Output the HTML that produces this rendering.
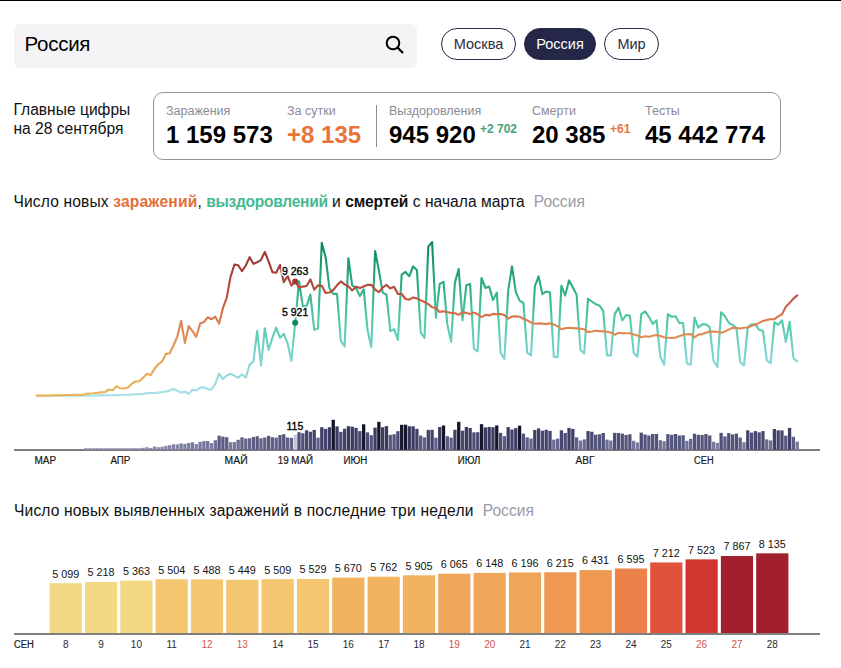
<!DOCTYPE html>
<html lang="ru"><head><meta charset="utf-8"><title>Коронавирус: статистика</title>
<style>
html,body{margin:0;padding:0;background:#fff;}
body{width:841px;height:668px;position:relative;overflow:hidden;font-family:"Liberation Sans",sans-serif;color:#000;}
.topline{position:absolute;left:0;top:0;width:841px;height:1px;background:#000;}
.search{position:absolute;left:14px;top:24px;width:403px;height:44px;background:#f4f4f6;border-radius:6px;}
.search .q{position:absolute;left:10.5px;top:7.6px;font-size:20.5px;line-height:24px;letter-spacing:-0.25px;color:#000;}
.search svg{position:absolute;left:368.6px;top:9.4px;}
.pill{position:absolute;top:28px;height:30px;border:1px solid #2a2b45;border-radius:16px;font-size:14.5px;line-height:30px;text-align:center;color:#2b2c40;box-sizing:content-box;}
.pill.on{background:#252748;color:#fff;}
.main{position:absolute;left:13.5px;top:99.75px;font-size:15.6px;line-height:19.3px;color:#111;}
.stats{position:absolute;left:153px;top:92px;width:626px;height:66px;border:1px solid #93939c;border-radius:10px;}
.lab{position:absolute;top:104px;font-size:12.5px;line-height:14px;color:#8a8b96;white-space:nowrap;}
.num{position:absolute;top:120.8px;font-size:24px;line-height:28px;font-weight:bold;color:#000;white-space:nowrap;}
.sm{position:absolute;top:122.3px;font-size:12px;line-height:14px;font-weight:bold;white-space:nowrap;}
.div{position:absolute;left:376px;top:105px;width:1px;height:42px;background:#8d8d99;}
.h{position:absolute;left:14px;font-size:15.6px;line-height:20px;white-space:nowrap;color:#111;}
.h b{font-weight:bold;}
.h .g{color:#9a9ba6;margin-left:9px;}
svg text{font-family:"Liberation Sans",sans-serif;}
.ax{font-size:10px;fill:#1a1a1a;stroke:#1a1a1a;stroke-width:0.2px;}
.bv{font-size:10.8px;fill:#111;text-anchor:middle;}
.bd{font-size:10px;fill:#2a2a33;text-anchor:middle;}
.pt{font-size:10.5px;fill:#000;stroke:#000;stroke-width:0.35px;}
.hl{font-size:10.5px;fill:#fff;stroke:#fff;stroke-width:3px;stroke-linejoin:round;}
</style></head><body>
<div class="topline"></div>
<div class="search"><span class="q">Россия</span>
<svg width="24" height="24" viewBox="0 0 24 24"><circle cx="10" cy="10" r="6.3" fill="none" stroke="#000" stroke-width="2"/><path d="M14.6 14.6 L20 20" stroke="#000" stroke-width="2.2" stroke-linecap="butt"/></svg></div>
<div class="pill" style="left:441px;width:73px;">Москва</div>
<div class="pill on" style="left:524px;width:70px;">Россия</div>
<div class="pill" style="left:604px;width:53px;">Мир</div>

<div class="main">Главные цифры<br>на 28 сентября</div>
<div class="stats"></div>
<div class="lab" style="left:166px;">Заражения</div>
<div class="num" style="left:166px;">1 159 573</div>
<div class="lab" style="left:287px;">За сутки</div>
<div class="num" style="left:287px;color:#e8743b;">+8 135</div>
<div class="div"></div>
<div class="lab" style="left:389px;">Выздоровления</div>
<div class="num" style="left:389px;">945 920</div>
<div class="sm" style="left:480px;color:#3fa37c;">+2 702</div>
<div class="lab" style="left:532px;">Смерти</div>
<div class="num" style="left:532px;">20 385</div>
<div class="sm" style="left:610px;color:#e8743b;">+61</div>
<div class="lab" style="left:645px;">Тесты</div>
<div class="num" style="left:645px;">45 442 774</div>

<div class="h" style="top:191.5px;left:13.5px;"><span id="t1a" style="letter-spacing:0.13px">Число новых </span><b id="t1b" style="color:#e0703a;letter-spacing:0.2px">заражений</b><span id="t1c">, </span><b id="t1d" style="color:#45b894;letter-spacing:-0.3px">выздоровлений</b><span id="t1e"> и </span><b id="t1f" style="letter-spacing:-0.14px">смертей</b><span id="t1g" style="letter-spacing:0.05px"> с начала марта</span><span class="g" id="t1h">Россия</span></div>
<div class="h" style="top:501px;left:14px;"><span id="t2a" style="letter-spacing:0.14px">Число новых выявленных заражений</span><span id="t2b" style="letter-spacing:0.22px"> в последние три недели</span><span class="g" id="t2c">Россия</span></div>

<svg width="841" height="668" viewBox="0 0 841 668" style="position:absolute;left:0;top:0;">
<defs>
<linearGradient id="gi" gradientUnits="userSpaceOnUse" x1="0" y1="396" x2="0" y2="250">
<stop offset="0" stop-color="#ecb558"/><stop offset="0.25" stop-color="#e8a055"/><stop offset="0.42" stop-color="#e08c54"/><stop offset="0.5" stop-color="#dc8150"/><stop offset="0.58" stop-color="#d56a43"/><stop offset="0.68" stop-color="#c4503c"/><stop offset="0.8" stop-color="#ab413a"/><stop offset="1" stop-color="#9a3838"/>
</linearGradient>
<linearGradient id="gr" gradientUnits="userSpaceOnUse" x1="0" y1="396" x2="0" y2="242">
<stop offset="0" stop-color="#a9dfe9"/><stop offset="0.25" stop-color="#7dd5d0"/><stop offset="0.5" stop-color="#4fc8a6"/><stop offset="0.75" stop-color="#27a97c"/><stop offset="1" stop-color="#0c8a5e"/>
</linearGradient>
</defs>
<path d="M36.6,395.7 L40.4,395.7 L44.2,395.7 L48.0,395.7 L51.8,395.7 L55.6,395.7 L59.4,395.7 L63.2,395.7 L67.0,395.7 L70.8,395.7 L74.6,395.7 L78.4,395.7 L82.2,395.6 L86.0,395.6 L89.8,395.6 L93.6,395.5 L97.4,395.5 L101.2,395.4 L105.0,395.3 L108.9,395.3 L112.7,395.2 L116.5,395.1 L120.3,395.0 L124.1,394.8 L127.9,394.7 L131.7,394.5 L135.5,394.3 L139.3,394.1 L143.1,393.9 L146.9,393.2 L150.7,392.8 L154.5,393.0 L158.3,392.6 L162.1,392.0 L165.9,391.5 L169.7,390.4 L173.5,389.0 L177.3,390.8 L181.1,392.6 L184.9,391.8 L188.7,393.7 L192.5,389.7 L196.3,390.5 L200.1,387.8 L203.9,387.2 L207.7,389.1 L211.5,389.7 L215.3,383.7 L219.1,373.7 L222.9,379.1 L226.7,375.6 L230.5,373.7 L234.4,375.6 L238.2,377.8 L242.0,374.3 L245.8,377.8 L249.6,364.8 L253.4,361.6 L257.2,331.1 L261.0,365.7 L264.8,328.4 L268.6,350.0 L272.4,337.9 L276.2,327.6 L280.0,337.9 L283.8,333.8 L287.6,343.3 L291.4,360.8 L295.2,323.0 L299.0,281.2 L302.8,306.1 L306.6,306.1 L310.4,294.7 L314.2,329.8 L318.0,328.4 L321.8,242.9 L325.6,257.0 L329.4,288.0 L333.2,293.9 L337.0,293.9 L340.8,340.6 L344.6,346.5 L348.4,258.3 L352.2,285.3 L356.0,288.0 L359.9,296.1 L363.7,289.3 L367.5,329.8 L371.3,347.3 L375.1,251.0 L378.9,270.5 L382.7,292.6 L386.5,294.7 L390.3,331.1 L394.1,329.2 L397.9,340.0 L401.7,274.5 L405.5,271.8 L409.3,276.4 L413.1,266.4 L416.9,269.9 L420.7,332.5 L424.5,337.9 L428.3,246.7 L432.1,242.1 L435.9,317.6 L439.7,283.9 L443.5,281.8 L447.3,324.4 L451.1,341.9 L454.9,282.6 L458.7,269.1 L462.5,320.3 L466.3,285.3 L470.1,283.9 L473.9,348.7 L477.7,351.4 L481.5,278.0 L485.4,288.0 L489.2,286.6 L493.0,300.1 L496.8,292.6 L500.6,352.7 L504.4,358.9 L508.2,290.7 L512.0,266.4 L515.8,292.0 L519.6,300.7 L523.4,302.8 L527.2,352.7 L531.0,355.4 L534.8,286.6 L538.6,276.4 L542.4,294.2 L546.2,291.5 L550.0,292.6 L553.8,356.8 L557.6,357.3 L561.4,285.8 L565.2,295.5 L569.0,280.4 L572.8,287.2 L576.6,294.7 L580.4,350.0 L584.2,353.5 L588.0,298.8 L591.8,301.5 L595.6,304.2 L599.4,305.5 L603.2,310.9 L607.0,355.4 L610.8,355.4 L614.7,314.1 L618.5,307.7 L622.3,320.3 L626.1,315.0 L629.9,315.8 L633.7,352.7 L637.5,356.8 L641.3,314.1 L645.1,311.4 L648.9,316.8 L652.7,323.9 L656.5,320.3 L660.3,356.8 L664.1,364.8 L667.9,314.1 L671.7,316.8 L675.5,316.3 L679.3,323.0 L683.1,323.0 L686.9,363.5 L690.7,364.8 L694.5,317.6 L698.3,327.6 L702.1,324.4 L705.9,324.4 L709.7,327.1 L713.5,360.8 L717.3,367.0 L721.1,312.3 L724.9,316.3 L728.7,322.5 L732.5,324.9 L736.3,327.6 L740.2,362.1 L744.0,365.4 L747.8,327.1 L751.6,324.4 L755.4,324.4 L759.2,329.8 L763.0,331.1 L766.8,360.3 L770.6,363.5 L774.4,322.2 L778.2,324.9 L782.0,320.3 L785.8,341.9 L789.6,321.7 L793.4,358.1 L797.2,361.6" fill="none" stroke="url(#gr)" stroke-width="2.1" stroke-linejoin="round" stroke-linecap="round"/>
<path d="M36.6,395.6 L40.4,395.6 L44.2,395.5 L48.0,395.7 L51.8,395.3 L55.6,395.4 L59.4,395.3 L63.2,395.1 L67.0,395.0 L70.8,395.0 L74.6,394.9 L78.4,394.8 L82.2,395.0 L86.0,393.7 L89.8,393.5 L93.6,393.3 L97.4,392.9 L101.2,392.4 L105.0,392.0 L108.9,389.5 L112.7,390.3 L116.5,386.2 L120.3,388.3 L124.1,388.5 L127.9,387.6 L131.7,383.9 L135.5,381.5 L139.3,381.2 L143.1,377.7 L146.9,373.7 L150.7,375.1 L154.5,368.7 L158.3,364.2 L162.1,361.5 L165.9,353.9 L169.7,353.2 L173.5,345.5 L177.3,336.7 L181.1,321.0 L184.9,343.1 L188.7,326.1 L192.5,331.1 L196.3,336.8 L200.1,323.6 L203.9,322.1 L207.7,317.3 L211.5,319.3 L215.3,316.7 L219.1,323.7 L222.9,308.2 L226.7,297.9 L230.5,277.0 L234.4,264.6 L238.2,265.2 L242.0,271.1 L245.8,265.5 L249.6,257.2 L253.4,263.8 L257.2,262.3 L261.0,259.9 L264.8,252.0 L268.6,261.3 L272.4,272.1 L276.2,272.7 L280.0,265.0 L283.8,282.3 L287.6,276.0 L291.4,285.6 L295.2,281.5 L299.0,287.6 L302.8,286.6 L306.6,286.0 L310.4,279.4 L314.2,289.7 L318.0,285.4 L321.8,285.8 L325.6,292.9 L329.4,292.5 L333.2,290.0 L337.0,285.3 L340.8,281.4 L344.6,284.3 L348.4,286.4 L352.2,290.5 L356.0,286.8 L359.9,288.1 L363.7,286.5 L367.5,284.9 L371.3,284.9 L375.1,289.7 L378.9,292.1 L382.7,287.5 L386.5,284.9 L390.3,288.4 L394.1,286.8 L397.9,294.0 L401.7,294.0 L405.5,299.0 L409.3,299.6 L413.1,297.4 L416.9,298.4 L420.7,300.4 L424.5,302.0 L428.3,304.1 L432.1,307.2 L435.9,308.0 L439.7,311.9 L443.5,311.2 L447.3,312.0 L451.1,312.9 L454.9,313.2 L458.7,314.9 L462.5,312.3 L466.3,312.9 L470.1,313.9 L473.9,312.6 L477.7,314.2 L481.5,317.2 L485.4,314.8 L489.2,315.4 L493.0,313.9 L496.8,314.2 L500.6,314.1 L504.4,315.1 L508.2,318.7 L512.0,316.5 L515.8,316.4 L519.6,316.7 L523.4,318.8 L527.2,320.4 L531.0,322.5 L534.8,323.7 L538.6,323.4 L542.4,323.6 L546.2,324.1 L550.0,323.3 L553.8,324.6 L557.6,326.2 L561.4,329.2 L565.2,328.2 L569.0,327.8 L572.8,328.1 L576.6,328.4 L580.4,328.8 L584.2,329.2 L588.0,332.1 L591.8,331.5 L595.6,330.8 L599.4,331.1 L603.2,331.4 L607.0,331.7 L610.8,332.6 L614.7,334.7 L618.5,332.8 L622.3,333.3 L626.1,333.2 L629.9,333.3 L633.7,334.4 L637.5,335.4 L641.3,337.2 L645.1,336.2 L648.9,336.7 L652.7,335.7 L656.5,335.0 L660.3,335.9 L664.1,337.2 L667.9,337.8 L671.7,338.0 L675.5,337.6 L679.3,336.2 L683.1,334.8 L686.9,334.3 L690.7,334.1 L694.5,337.4 L698.3,334.6 L702.1,334.1 L705.9,332.7 L709.7,331.5 L713.5,331.6 L717.3,331.8 L721.1,332.8 L724.9,331.4 L728.7,329.6 L732.5,327.8 L736.3,328.0 L740.2,328.5 L744.0,327.8 L747.8,327.5 L751.6,325.8 L755.4,324.7 L759.2,322.9 L763.0,320.9 L766.8,319.9 L770.6,319.3 L774.4,319.1 L778.2,316.4 L782.0,314.4 L785.8,306.8 L789.6,302.9 L793.4,298.7 L797.2,295.4" fill="none" stroke="url(#gi)" stroke-width="2.1" stroke-linejoin="round" stroke-linecap="round"/>
<circle cx="295.2" cy="281.5" r="3" fill="#a8323a"/>
<circle cx="295.2" cy="322.8" r="3" fill="#0c8a5e"/>
<text x="282" y="275" class="hl">9 263</text>
<text x="282" y="316" class="hl">5 921</text>
<text x="282" y="275" class="pt">9 263</text>
<text x="282" y="316" class="pt">5 921</text>
<text x="286.5" y="429.6" class="pt">115</text>
<rect x="14" y="449" width="806" height="2" fill="#7c7c80"/>
<rect x="84.38" y="448.20" width="3.3" height="1.60" fill="#8c8eae"/>
<rect x="88.19" y="448.20" width="3.3" height="1.60" fill="#8c8eae"/>
<rect x="91.99" y="448.20" width="3.3" height="1.60" fill="#8c8eae"/>
<rect x="95.79" y="448.20" width="3.3" height="1.60" fill="#8c8eae"/>
<rect x="99.60" y="448.20" width="3.3" height="1.60" fill="#8c8eae"/>
<rect x="103.40" y="448.20" width="3.3" height="1.60" fill="#8c8eae"/>
<rect x="107.20" y="448.20" width="3.3" height="1.60" fill="#8c8eae"/>
<rect x="111.01" y="448.20" width="3.3" height="1.60" fill="#8c8eae"/>
<rect x="114.81" y="448.20" width="3.3" height="1.60" fill="#8c8eae"/>
<rect x="118.61" y="448.20" width="3.3" height="1.60" fill="#8c8eae"/>
<rect x="122.41" y="448.20" width="3.3" height="1.60" fill="#8c8eae"/>
<rect x="126.22" y="448.20" width="3.3" height="1.60" fill="#8c8eae"/>
<rect x="130.02" y="448.20" width="3.3" height="1.60" fill="#8c8eae"/>
<rect x="133.82" y="448.09" width="3.3" height="1.71" fill="#8c8eae"/>
<rect x="137.63" y="448.20" width="3.3" height="1.60" fill="#8c8eae"/>
<rect x="141.43" y="447.84" width="3.3" height="1.96" fill="#8c8eae"/>
<rect x="145.23" y="447.20" width="3.3" height="2.60" fill="#8c8eae"/>
<rect x="149.04" y="447.96" width="3.3" height="1.84" fill="#8c8eae"/>
<rect x="152.84" y="446.43" width="3.3" height="3.37" fill="#8a8cac"/>
<rect x="156.64" y="447.20" width="3.3" height="2.60" fill="#8c8eae"/>
<rect x="160.44" y="446.68" width="3.3" height="3.12" fill="#8b8dad"/>
<rect x="164.25" y="445.92" width="3.3" height="3.88" fill="#888aab"/>
<rect x="168.05" y="445.15" width="3.3" height="4.65" fill="#8688a9"/>
<rect x="171.85" y="444.25" width="3.3" height="5.55" fill="#8385a7"/>
<rect x="175.66" y="444.38" width="3.3" height="5.42" fill="#8486a8"/>
<rect x="179.46" y="443.36" width="3.3" height="6.44" fill="#7e80a3"/>
<rect x="183.26" y="443.87" width="3.3" height="5.93" fill="#8183a5"/>
<rect x="187.07" y="442.97" width="3.3" height="6.83" fill="#7c7ea1"/>
<rect x="190.87" y="442.20" width="3.3" height="7.60" fill="#787a9e"/>
<rect x="194.67" y="444.12" width="3.3" height="5.68" fill="#8284a6"/>
<rect x="198.47" y="441.82" width="3.3" height="7.98" fill="#76789c"/>
<rect x="202.28" y="441.05" width="3.3" height="8.75" fill="#727499"/>
<rect x="206.08" y="441.05" width="3.3" height="8.75" fill="#727499"/>
<rect x="209.88" y="443.10" width="3.3" height="6.70" fill="#7d7fa2"/>
<rect x="213.69" y="440.28" width="3.3" height="9.52" fill="#6e7095"/>
<rect x="217.49" y="435.68" width="3.3" height="14.12" fill="#585980"/>
<rect x="221.29" y="436.57" width="3.3" height="13.23" fill="#5b5c83"/>
<rect x="225.10" y="437.21" width="3.3" height="12.59" fill="#5e5f86"/>
<rect x="228.90" y="442.20" width="3.3" height="7.60" fill="#787a9e"/>
<rect x="232.70" y="442.08" width="3.3" height="7.72" fill="#787a9d"/>
<rect x="236.50" y="439.77" width="3.3" height="10.03" fill="#6c6d93"/>
<rect x="240.31" y="437.34" width="3.3" height="12.46" fill="#5f6087"/>
<rect x="244.11" y="438.49" width="3.3" height="11.31" fill="#65668c"/>
<rect x="247.91" y="438.24" width="3.3" height="11.56" fill="#64658b"/>
<rect x="251.72" y="436.96" width="3.3" height="12.84" fill="#5d5e85"/>
<rect x="255.52" y="436.19" width="3.3" height="13.61" fill="#5a5b82"/>
<rect x="259.32" y="438.24" width="3.3" height="11.56" fill="#64658b"/>
<rect x="263.13" y="437.47" width="3.3" height="12.33" fill="#606187"/>
<rect x="266.93" y="435.80" width="3.3" height="14.00" fill="#585980"/>
<rect x="270.73" y="437.21" width="3.3" height="12.59" fill="#5e5f86"/>
<rect x="274.54" y="437.60" width="3.3" height="12.20" fill="#606188"/>
<rect x="278.34" y="435.04" width="3.3" height="14.76" fill="#56577e"/>
<rect x="282.14" y="434.27" width="3.3" height="15.53" fill="#53547b"/>
<rect x="285.94" y="437.47" width="3.3" height="12.33" fill="#606187"/>
<rect x="289.75" y="437.85" width="3.3" height="11.95" fill="#626389"/>
<rect x="293.55" y="434.78" width="3.3" height="15.02" fill="#c3c5d8"/>
<rect x="297.35" y="432.22" width="3.3" height="17.58" fill="#4c4d74"/>
<rect x="301.16" y="433.24" width="3.3" height="16.56" fill="#505178"/>
<rect x="304.96" y="430.30" width="3.3" height="19.50" fill="#46476e"/>
<rect x="308.76" y="431.71" width="3.3" height="18.09" fill="#4a4b72"/>
<rect x="312.56" y="429.92" width="3.3" height="19.88" fill="#44456c"/>
<rect x="316.37" y="437.72" width="3.3" height="12.08" fill="#616289"/>
<rect x="320.17" y="427.23" width="3.3" height="22.57" fill="#3c3d62"/>
<rect x="323.97" y="428.89" width="3.3" height="20.91" fill="#414268"/>
<rect x="327.78" y="427.23" width="3.3" height="22.57" fill="#3c3d62"/>
<rect x="331.58" y="419.80" width="3.3" height="30.00" fill="#141528"/>
<rect x="335.38" y="426.33" width="3.3" height="23.47" fill="#393a5f"/>
<rect x="339.19" y="431.84" width="3.3" height="17.96" fill="#4b4c73"/>
<rect x="342.99" y="428.76" width="3.3" height="21.04" fill="#414268"/>
<rect x="346.79" y="426.20" width="3.3" height="23.60" fill="#38395e"/>
<rect x="350.60" y="426.72" width="3.3" height="23.08" fill="#3a3b60"/>
<rect x="354.40" y="427.87" width="3.3" height="21.93" fill="#3e3f65"/>
<rect x="358.20" y="431.07" width="3.3" height="18.73" fill="#484970"/>
<rect x="362.00" y="424.28" width="3.3" height="25.52" fill="#16172b"/>
<rect x="365.81" y="432.35" width="3.3" height="17.45" fill="#4d4e75"/>
<rect x="369.61" y="435.16" width="3.3" height="14.64" fill="#56577e"/>
<rect x="373.41" y="427.61" width="3.3" height="22.19" fill="#3d3e64"/>
<rect x="377.22" y="421.85" width="3.3" height="27.95" fill="#151629"/>
<rect x="381.02" y="427.23" width="3.3" height="22.57" fill="#3c3d62"/>
<rect x="384.82" y="426.08" width="3.3" height="23.72" fill="#38395e"/>
<rect x="388.62" y="434.91" width="3.3" height="14.89" fill="#55567d"/>
<rect x="392.43" y="434.27" width="3.3" height="15.53" fill="#53547b"/>
<rect x="396.23" y="431.20" width="3.3" height="18.60" fill="#494a71"/>
<rect x="400.03" y="424.80" width="3.3" height="25.00" fill="#16172b"/>
<rect x="403.84" y="424.67" width="3.3" height="25.13" fill="#16172b"/>
<rect x="407.64" y="426.20" width="3.3" height="23.60" fill="#38395e"/>
<rect x="411.44" y="426.33" width="3.3" height="23.47" fill="#393a5f"/>
<rect x="415.25" y="428.89" width="3.3" height="20.91" fill="#414268"/>
<rect x="419.05" y="435.55" width="3.3" height="14.25" fill="#585980"/>
<rect x="422.85" y="437.34" width="3.3" height="12.46" fill="#5f6087"/>
<rect x="426.65" y="429.92" width="3.3" height="19.88" fill="#44456c"/>
<rect x="430.46" y="429.79" width="3.3" height="20.01" fill="#44456c"/>
<rect x="434.26" y="437.72" width="3.3" height="12.08" fill="#616289"/>
<rect x="438.06" y="426.97" width="3.3" height="22.83" fill="#3b3c61"/>
<rect x="441.87" y="425.44" width="3.3" height="24.36" fill="#16172b"/>
<rect x="445.67" y="436.19" width="3.3" height="13.61" fill="#5a5b82"/>
<rect x="449.47" y="437.60" width="3.3" height="12.20" fill="#606188"/>
<rect x="453.28" y="429.79" width="3.3" height="20.01" fill="#44456c"/>
<rect x="457.08" y="421.85" width="3.3" height="27.95" fill="#151629"/>
<rect x="460.88" y="430.68" width="3.3" height="19.12" fill="#47486f"/>
<rect x="464.69" y="426.97" width="3.3" height="22.83" fill="#3b3c61"/>
<rect x="468.49" y="428.00" width="3.3" height="21.80" fill="#3e3f65"/>
<rect x="472.29" y="432.35" width="3.3" height="17.45" fill="#4d4e75"/>
<rect x="476.09" y="432.22" width="3.3" height="17.58" fill="#4c4d74"/>
<rect x="479.90" y="424.16" width="3.3" height="25.64" fill="#16172b"/>
<rect x="483.70" y="427.36" width="3.3" height="22.44" fill="#3c3d63"/>
<rect x="487.50" y="426.97" width="3.3" height="22.83" fill="#3b3c61"/>
<rect x="491.31" y="427.23" width="3.3" height="22.57" fill="#3c3d62"/>
<rect x="495.11" y="425.44" width="3.3" height="24.36" fill="#16172b"/>
<rect x="498.91" y="432.86" width="3.3" height="16.94" fill="#4e4f76"/>
<rect x="502.72" y="436.19" width="3.3" height="13.61" fill="#5a5b82"/>
<rect x="506.52" y="427.10" width="3.3" height="22.70" fill="#3b3c62"/>
<rect x="510.32" y="429.53" width="3.3" height="20.27" fill="#43446b"/>
<rect x="514.12" y="428.12" width="3.3" height="21.68" fill="#3f4066"/>
<rect x="517.93" y="425.69" width="3.3" height="24.11" fill="#16172b"/>
<rect x="521.73" y="433.63" width="3.3" height="16.17" fill="#515279"/>
<rect x="525.53" y="437.34" width="3.3" height="12.46" fill="#5f6087"/>
<rect x="529.34" y="438.62" width="3.3" height="11.18" fill="#66678d"/>
<rect x="533.14" y="429.92" width="3.3" height="19.88" fill="#44456c"/>
<rect x="536.94" y="428.38" width="3.3" height="21.42" fill="#3f4066"/>
<rect x="540.75" y="430.68" width="3.3" height="19.12" fill="#47486f"/>
<rect x="544.55" y="429.79" width="3.3" height="20.01" fill="#44456c"/>
<rect x="548.35" y="430.81" width="3.3" height="18.99" fill="#47486f"/>
<rect x="552.15" y="439.64" width="3.3" height="10.16" fill="#6b6d92"/>
<rect x="555.96" y="438.62" width="3.3" height="11.18" fill="#66678d"/>
<rect x="559.76" y="430.30" width="3.3" height="19.50" fill="#46476e"/>
<rect x="563.56" y="432.99" width="3.3" height="16.81" fill="#4f5077"/>
<rect x="567.37" y="427.87" width="3.3" height="21.93" fill="#3e3f65"/>
<rect x="571.17" y="428.89" width="3.3" height="20.91" fill="#414268"/>
<rect x="574.97" y="437.34" width="3.3" height="12.46" fill="#5f6087"/>
<rect x="578.77" y="440.54" width="3.3" height="9.26" fill="#707297"/>
<rect x="582.58" y="439.39" width="3.3" height="10.41" fill="#6a6b91"/>
<rect x="586.38" y="431.07" width="3.3" height="18.73" fill="#484970"/>
<rect x="590.18" y="431.71" width="3.3" height="18.09" fill="#4a4b72"/>
<rect x="593.99" y="434.65" width="3.3" height="15.15" fill="#54557c"/>
<rect x="597.79" y="434.27" width="3.3" height="15.53" fill="#53547b"/>
<rect x="601.59" y="432.99" width="3.3" height="16.81" fill="#4f5077"/>
<rect x="605.40" y="439.64" width="3.3" height="10.16" fill="#6b6d92"/>
<rect x="609.20" y="440.54" width="3.3" height="9.26" fill="#707297"/>
<rect x="613.00" y="432.86" width="3.3" height="16.94" fill="#4e4f76"/>
<rect x="616.80" y="432.99" width="3.3" height="16.81" fill="#4f5077"/>
<rect x="620.61" y="433.63" width="3.3" height="16.17" fill="#515279"/>
<rect x="624.41" y="434.91" width="3.3" height="14.89" fill="#55567d"/>
<rect x="628.21" y="434.27" width="3.3" height="15.53" fill="#53547b"/>
<rect x="632.02" y="440.80" width="3.3" height="9.00" fill="#717398"/>
<rect x="635.82" y="442.46" width="3.3" height="7.34" fill="#7a7c9f"/>
<rect x="639.62" y="432.60" width="3.3" height="17.20" fill="#4d4e75"/>
<rect x="643.43" y="434.52" width="3.3" height="15.28" fill="#54557c"/>
<rect x="647.23" y="435.42" width="3.3" height="14.38" fill="#57587f"/>
<rect x="651.03" y="434.01" width="3.3" height="15.79" fill="#52537a"/>
<rect x="654.83" y="434.01" width="3.3" height="15.79" fill="#52537a"/>
<rect x="658.64" y="440.16" width="3.3" height="9.64" fill="#6e6f95"/>
<rect x="662.44" y="441.18" width="3.3" height="8.62" fill="#737599"/>
<rect x="666.24" y="434.14" width="3.3" height="15.66" fill="#53547b"/>
<rect x="670.05" y="434.78" width="3.3" height="15.02" fill="#55567d"/>
<rect x="673.85" y="434.01" width="3.3" height="15.79" fill="#52537a"/>
<rect x="677.65" y="435.42" width="3.3" height="14.38" fill="#57587f"/>
<rect x="681.46" y="435.29" width="3.3" height="14.51" fill="#57587f"/>
<rect x="685.26" y="440.80" width="3.3" height="9.00" fill="#717398"/>
<rect x="689.06" y="438.88" width="3.3" height="10.92" fill="#67688e"/>
<rect x="692.87" y="433.76" width="3.3" height="16.04" fill="#515279"/>
<rect x="696.67" y="434.78" width="3.3" height="15.02" fill="#55567d"/>
<rect x="700.47" y="434.91" width="3.3" height="14.89" fill="#55567d"/>
<rect x="704.27" y="434.01" width="3.3" height="15.79" fill="#52537a"/>
<rect x="708.08" y="435.42" width="3.3" height="14.38" fill="#57587f"/>
<rect x="711.88" y="441.69" width="3.3" height="8.11" fill="#76789c"/>
<rect x="715.68" y="442.97" width="3.3" height="6.83" fill="#7c7ea1"/>
<rect x="719.49" y="432.86" width="3.3" height="16.94" fill="#4e4f76"/>
<rect x="723.29" y="436.44" width="3.3" height="13.36" fill="#5b5c83"/>
<rect x="727.09" y="433.12" width="3.3" height="16.68" fill="#4f5077"/>
<rect x="730.89" y="434.40" width="3.3" height="15.40" fill="#54557c"/>
<rect x="734.70" y="433.63" width="3.3" height="16.17" fill="#515279"/>
<rect x="738.50" y="437.47" width="3.3" height="12.33" fill="#606187"/>
<rect x="742.30" y="442.20" width="3.3" height="7.60" fill="#787a9e"/>
<rect x="746.11" y="430.30" width="3.3" height="19.50" fill="#46476e"/>
<rect x="749.91" y="432.60" width="3.3" height="17.20" fill="#4d4e75"/>
<rect x="753.71" y="431.07" width="3.3" height="18.73" fill="#484970"/>
<rect x="757.52" y="432.35" width="3.3" height="17.45" fill="#4d4e75"/>
<rect x="761.32" y="431.07" width="3.3" height="18.73" fill="#484970"/>
<rect x="765.12" y="439.39" width="3.3" height="10.41" fill="#6a6b91"/>
<rect x="768.93" y="440.41" width="3.3" height="9.39" fill="#6f7196"/>
<rect x="772.73" y="429.02" width="3.3" height="20.78" fill="#414269"/>
<rect x="776.53" y="430.30" width="3.3" height="19.50" fill="#46476e"/>
<rect x="780.33" y="430.43" width="3.3" height="19.37" fill="#46476e"/>
<rect x="784.14" y="435.68" width="3.3" height="14.12" fill="#585980"/>
<rect x="787.94" y="427.87" width="3.3" height="21.93" fill="#3e3f65"/>
<rect x="791.74" y="436.83" width="3.3" height="12.97" fill="#5c5d84"/>
<rect x="795.55" y="441.69" width="3.3" height="8.11" fill="#76789c"/>
<text x="34.5" y="463.8" class="ax" textLength="21.7" lengthAdjust="spacingAndGlyphs">МАР</text>
<text x="110.4" y="463.8" class="ax" textLength="20.0" lengthAdjust="spacingAndGlyphs">АПР</text>
<text x="224.6" y="463.8" class="ax" textLength="23.0" lengthAdjust="spacingAndGlyphs">МАЙ</text>
<text x="277.7" y="463.8" class="ax" textLength="35.4" lengthAdjust="spacingAndGlyphs">19 МАЙ</text>
<text x="343.4" y="463.8" class="ax" textLength="23.9" lengthAdjust="spacingAndGlyphs">ИЮН</text>
<text x="457.8" y="463.8" class="ax" textLength="22.5" lengthAdjust="spacingAndGlyphs">ИЮЛ</text>
<text x="575.6" y="463.8" class="ax" textLength="18.9" lengthAdjust="spacingAndGlyphs">АВГ</text>
<text x="694.0" y="463.8" class="ax" textLength="19.6" lengthAdjust="spacingAndGlyphs">СЕН</text>
<rect x="49.60" y="583.23" width="32.2" height="50.17" fill="#f3d782"/>
<rect x="84.93" y="582.05" width="32.2" height="51.35" fill="#f3d782"/>
<rect x="120.26" y="580.63" width="32.2" height="52.77" fill="#f3d782"/>
<rect x="155.59" y="579.24" width="32.2" height="54.16" fill="#f3c66f"/>
<rect x="190.92" y="579.40" width="32.2" height="54.00" fill="#f3c66f"/>
<rect x="226.25" y="579.78" width="32.2" height="53.62" fill="#f3c66f"/>
<rect x="261.58" y="579.19" width="32.2" height="54.21" fill="#f3c66f"/>
<rect x="296.91" y="578.99" width="32.2" height="54.41" fill="#f3c66f"/>
<rect x="332.24" y="577.61" width="32.2" height="55.79" fill="#f1b35e"/>
<rect x="367.57" y="576.70" width="32.2" height="56.70" fill="#f1b35e"/>
<rect x="402.90" y="575.29" width="32.2" height="58.11" fill="#f1b35e"/>
<rect x="438.23" y="573.72" width="32.2" height="59.68" fill="#efa659"/>
<rect x="473.56" y="572.90" width="32.2" height="60.50" fill="#efa659"/>
<rect x="508.89" y="572.43" width="32.2" height="60.97" fill="#efa659"/>
<rect x="544.22" y="572.24" width="32.2" height="61.16" fill="#ee9852"/>
<rect x="579.55" y="570.12" width="32.2" height="63.28" fill="#ee9852"/>
<rect x="614.88" y="568.51" width="32.2" height="64.89" fill="#eb8249"/>
<rect x="650.21" y="562.43" width="32.2" height="70.97" fill="#e0533a"/>
<rect x="685.54" y="559.37" width="32.2" height="74.03" fill="#d13530"/>
<rect x="720.87" y="555.99" width="32.2" height="77.41" fill="#a21f2d"/>
<rect x="756.20" y="553.35" width="32.2" height="80.05" fill="#a21f2d"/>
<text x="65.7" y="577.5" class="bv">5 099</text>
<text x="101.0" y="576.4" class="bv">5 218</text>
<text x="136.4" y="574.9" class="bv">5 363</text>
<text x="171.7" y="573.5" class="bv">5 504</text>
<text x="207.0" y="573.7" class="bv">5 488</text>
<text x="242.3" y="574.1" class="bv">5 449</text>
<text x="277.7" y="573.5" class="bv">5 509</text>
<text x="313.0" y="573.3" class="bv">5 529</text>
<text x="348.3" y="571.9" class="bv">5 670</text>
<text x="383.7" y="571.0" class="bv">5 762</text>
<text x="419.0" y="569.6" class="bv">5 905</text>
<text x="454.3" y="568.0" class="bv">6 065</text>
<text x="489.7" y="567.2" class="bv">6 148</text>
<text x="525.0" y="566.7" class="bv">6 196</text>
<text x="560.3" y="566.5" class="bv">6 215</text>
<text x="595.6" y="564.4" class="bv">6 431</text>
<text x="631.0" y="562.8" class="bv">6 595</text>
<text x="666.3" y="556.7" class="bv">7 212</text>
<text x="701.6" y="553.7" class="bv">7 523</text>
<text x="737.0" y="550.3" class="bv">7 867</text>
<text x="772.3" y="547.7" class="bv">8 135</text>
<rect x="14" y="633" width="806" height="2" fill="#808080"/>
<text x="14.1" y="647.9" class="ax" textLength="19.8" lengthAdjust="spacingAndGlyphs">СЕН</text>
<text x="65.7" y="647.9" class="bd">8</text>
<text x="101.0" y="647.9" class="bd">9</text>
<text x="136.4" y="647.9" class="bd">10</text>
<text x="171.7" y="647.9" class="bd">11</text>
<text x="207.0" y="647.9" class="bd" style="fill:#d2554b">12</text>
<text x="242.3" y="647.9" class="bd" style="fill:#d2554b">13</text>
<text x="277.7" y="647.9" class="bd">14</text>
<text x="313.0" y="647.9" class="bd">15</text>
<text x="348.3" y="647.9" class="bd">16</text>
<text x="383.7" y="647.9" class="bd">17</text>
<text x="419.0" y="647.9" class="bd">18</text>
<text x="454.3" y="647.9" class="bd" style="fill:#d2554b">19</text>
<text x="489.7" y="647.9" class="bd" style="fill:#d2554b">20</text>
<text x="525.0" y="647.9" class="bd">21</text>
<text x="560.3" y="647.9" class="bd">22</text>
<text x="595.6" y="647.9" class="bd">23</text>
<text x="631.0" y="647.9" class="bd">24</text>
<text x="666.3" y="647.9" class="bd">25</text>
<text x="701.6" y="647.9" class="bd" style="fill:#d2554b">26</text>
<text x="737.0" y="647.9" class="bd" style="fill:#d2554b">27</text>
<text x="772.3" y="647.9" class="bd">28</text>
</svg>
</body></html>
